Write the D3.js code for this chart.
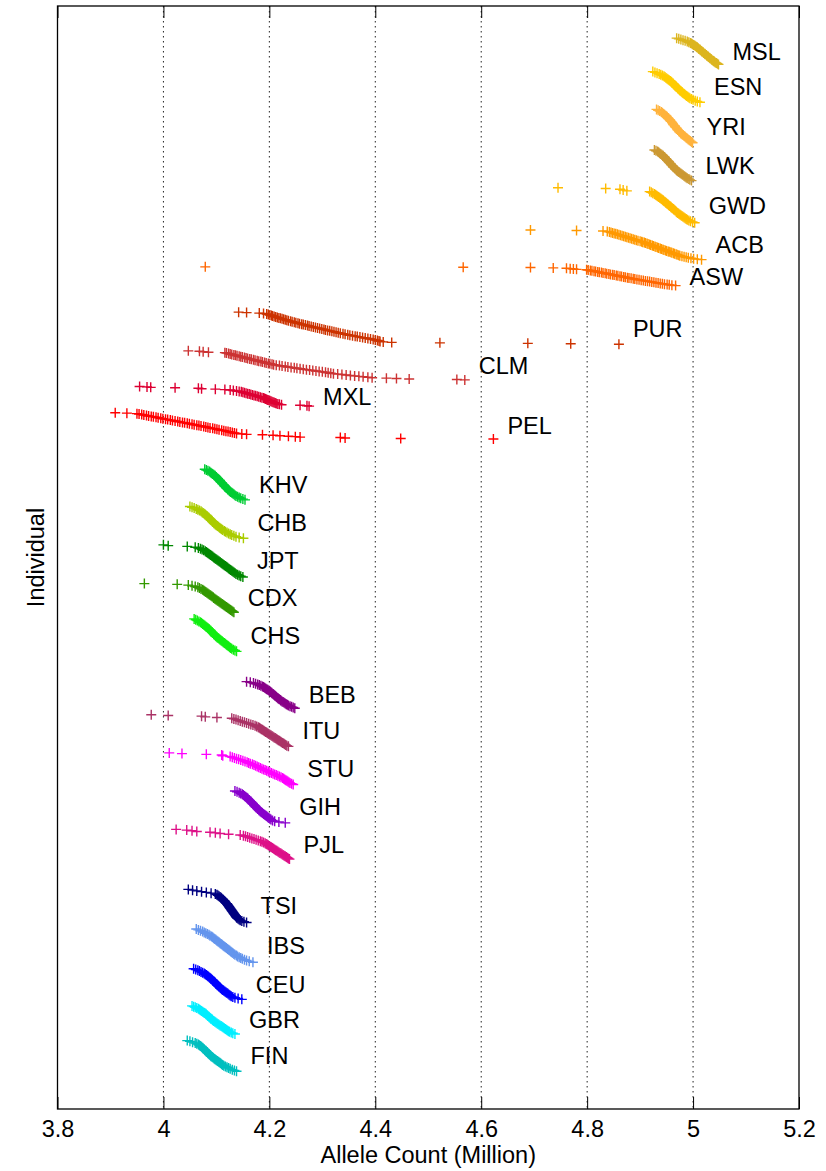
<html>
<script src='https://d3js.org/d3.v7.min.js'></script>
<body style="margin:0;background:#fff">
<svg width=826 height=1171></svg>
<script>
// populations, top to bottom, grouped by continent
const popNames = ["MSL","ESN","YRI","LWK","GWD","ACB","ASW","PUR","CLM","MXL","PEL","KHV","CHB","JPT","CDX","CHS","BEB","ITU","STU","GIH","PJL","TSI","IBS","CEU","GBR","FIN"]
const popSizes = [85,99,108,99,113,96,61,104,94,64,85,99,103,104,93,105,86,102,102,103,96,107,107,99,91,99]
const popGroup = [0,0,0,0,0,0,0,1,1,1,1,2,2,2,2,2,3,3,3,3,3,4,4,4,4,4]
const xTicks = [3.8,4,4.2,4.4,4.6,4.8,5,5.2]

// sorted allele counts (million) per population
const MSL = [4.969,4.973,4.977,4.981,4.985,4.989,4.992,4.995,4.997,4.999,5.001,5.003,5.005,5.007,5.008,5.010,5.011,5.013,5.014,5.016,5.017,5.019,5.020,5.022,5.023,5.025,5.026,5.028,5.029,5.031,5.032,5.034,5.035,5.037,5.039,5.040,5.042,5.044,5.046,5.048]
const ESN = [4.924,4.928,4.932,4.936,4.939,4.942,4.945,4.947,4.949,4.951,4.953,4.955,4.957,4.959,4.960,4.962,4.963,4.965,4.966,4.968,4.969,4.971,4.972,4.974,4.975,4.977,4.979,4.980,4.982,4.984,4.986,4.988,4.990,4.992,4.994,4.997,5.000,5.004,5.008,5.013]
const YRI = [4.931,4.934,4.937,4.940,4.942,4.944,4.946,4.948,4.950,4.951,4.953,4.954,4.956,4.957,4.958,4.960,4.961,4.962,4.963,4.965,4.966,4.967,4.969,4.970,4.971,4.973,4.974,4.976,4.977,4.979,4.981,4.983,4.985,4.987,4.989,4.991,4.993,4.995,4.997,4.999]
const LWK = [4.927,4.930,4.933,4.935,4.937,4.939,4.941,4.943,4.944,4.946,4.947,4.949,4.950,4.951,4.953,4.954,4.955,4.957,4.958,4.959,4.961,4.962,4.963,4.965,4.966,4.968,4.969,4.971,4.973,4.975,4.977,4.979,4.981,4.983,4.985,4.987,4.989,4.992,4.994,4.997]
const GWD = [4.745,4.835,4.862,4.868,4.875,4.918,4.921,4.924,4.927,4.929,4.931,4.933,4.935,4.937,4.939,4.941,4.943,4.944,4.946,4.948,4.949,4.951,4.953,4.954,4.956,4.958,4.959,4.961,4.963,4.964,4.966,4.968,4.969,4.971,4.973,4.975,4.977,4.979,4.981,4.983,4.985,4.987,4.989,4.992,4.995,4.999,5.003]
const ACB = [4.693,4.780,4.830,4.838,4.842,4.845,4.848,4.851,4.854,4.857,4.860,4.863,4.866,4.869,4.872,4.875,4.878,4.881,4.884,4.887,4.890,4.893,4.896,4.900,
  4.903,4.905,4.908,4.910,4.913,4.915,4.918,4.920,4.923,4.925,4.928,4.930,4.933,4.935,4.938,4.940,4.943,4.945,4.948,4.950,4.953,4.955,4.958,4.960,4.963,4.965,4.968,4.970,4.973,4.975,
  4.979,4.983,4.987,4.991,4.996,5.001,5.008,5.016]
const ASW = [4.079,4.566,4.693,4.736,4.761,4.768,4.774,4.780,
  4.799,4.802,4.806,4.809,4.813,4.816,4.820,4.823,4.827,4.830,4.834,4.837,4.841,4.844,4.848,4.851,4.855,4.858,4.862,4.865,4.869,4.872,4.876,4.879,4.883,4.887,4.890,4.894,4.898,4.902,4.906,4.910,4.914,4.918,4.922,4.926,4.930,4.934,4.938,4.942,4.946,4.951,4.955,4.960,4.967]
const PUR = [4.142,4.157,4.181,4.189,
  4.195,4.198,4.201,4.204,4.206,4.209,4.212,4.215,4.218,4.221,4.224,4.227,4.230,4.233,4.236,4.240,4.243,4.247,4.250,4.254,4.257,4.261,4.264,4.268,4.272,4.275,4.279,4.283,
  4.287,4.291,4.295,4.299,4.303,4.306,4.310,4.314,4.318,4.322,4.326,4.330,4.334,
  4.339,4.343,4.348,4.352,4.357,4.362,4.366,4.371,4.376,4.381,4.386,4.391,4.396,4.400,4.404,4.407,4.409,
  4.415,4.431,4.522,4.688,4.769,4.860]
const CLM = [4.047,4.068,4.075,4.085,
  4.116,4.119,4.123,4.126,4.129,4.133,4.136,4.139,4.143,4.146,4.149,4.153,4.156,4.159,4.163,4.166,4.170,4.173,4.177,4.180,4.184,4.187,4.191,4.194,4.198,4.201,4.205,4.208,
  4.213,4.219,4.224,4.230,4.235,4.241,4.247,4.252,4.258,4.264,4.270,4.276,4.282,4.288,4.294,4.300,4.306,4.311,4.316,4.321,
  4.329,4.337,4.345,4.353,4.361,4.369,4.377,4.386,4.394,
  4.421,4.440,4.464,4.554,4.569]
const MXL = [3.955,3.969,3.976,4.022,4.066,4.072,4.098,4.116,4.126,4.132,4.138,4.143,4.147,4.150,4.153,4.156,4.159,4.162,4.165,4.168,4.171,4.174,4.177,4.180,4.183,4.186,4.189,4.191,4.193,4.195,4.197,4.199,4.201,4.203,4.205,4.207,4.209,4.211,4.213,4.216,4.219,4.223,4.258,4.271,4.275]
const PEL = [3.909,3.931,
  3.950,3.954,3.959,3.963,3.968,3.972,3.977,3.981,3.986,3.990,3.995,3.999,4.004,4.008,4.013,4.017,4.022,4.027,4.031,4.036,4.040,4.045,4.049,4.054,4.058,4.063,
  4.067,4.071,4.076,4.080,4.084,4.088,4.093,4.097,4.101,4.105,4.110,4.114,4.118,4.122,4.126,4.130,4.134,4.138,
  4.148,4.157,4.187,4.207,4.220,4.236,4.249,4.258,4.334,4.343,4.448,4.623]
const KHV = [4.078,4.081,4.084,4.087,4.089,4.091,4.093,4.095,4.097,4.098,4.100,4.101,4.103,4.104,4.106,4.107,4.108,4.110,4.111,4.112,4.114,4.115,4.116,4.118,4.119,4.121,4.122,4.124,4.125,4.127,4.129,4.131,4.133,4.135,4.137,4.140,4.143,4.146,4.150,4.154]
const CHB = [4.050,4.054,4.058,4.062,4.065,4.068,4.071,4.073,4.075,4.077,4.079,4.081,4.083,4.084,4.086,4.087,4.089,4.090,4.092,4.093,4.095,4.096,4.098,4.100,4.102,4.104,4.106,4.108,4.110,4.112,4.115,4.117,4.120,4.123,4.126,4.129,4.133,4.137,4.143,4.151]
const JPT = [4.000,4.009,4.045,4.060,4.066,4.070,4.073,4.076,4.079,4.081,4.083,4.085,4.087,4.089,4.091,4.093,4.095,4.097,4.099,4.101,4.103,4.105,4.107,4.109,4.111,4.113,4.115,4.117,4.119,4.121,4.123,4.125,4.127,4.129,4.131,4.133,4.135,4.137,4.140,4.143,4.146,4.150]
const CDX = [3.964,4.026,4.047,4.054,4.060,4.065,4.068,4.071,4.074,4.076,4.078,4.080,4.082,4.084,4.086,4.088,4.090,4.092,4.094,4.095,4.097,4.099,4.101,4.103,4.105,4.107,4.109,4.111,4.113,4.115,4.117,4.119,4.121,4.123,4.125,4.127,4.129,4.131,4.133]
const CHS = [4.058,4.061,4.064,4.067,4.070,4.072,4.074,4.076,4.078,4.080,4.082,4.084,4.086,4.087,4.089,4.090,4.092,4.093,4.095,4.096,4.098,4.099,4.101,4.103,4.105,4.107,4.109,4.111,4.113,4.115,4.117,4.119,4.121,4.123,4.125,4.127,4.129,4.132,4.135,4.138]
const BEB = [4.157,4.164,4.170,4.174,4.178,4.181,4.184,4.187,4.189,4.191,4.193,4.195,4.197,4.199,4.201,4.202,4.204,4.205,4.207,4.208,4.210,4.211,4.213,4.214,4.216,4.217,4.219,4.221,4.222,4.224,4.226,4.228,4.230,4.232,4.234,4.236,4.239,4.242,4.245,4.248]
const ITU = [3.977,4.009,4.072,4.079,4.101,
  4.129,4.133,4.137,4.141,4.145,4.149,4.153,4.157,4.161,4.165,4.169,4.173,4.176,
  4.179,4.181,4.183,4.185,4.187,4.189,4.191,4.193,4.195,4.197,4.199,4.201,4.203,4.205,4.207,4.209,4.211,4.213,4.215,4.217,4.219,4.221,4.223,4.225,4.227,4.229,4.231,4.233,4.236]
const STU = [4.011,4.035,4.081,4.110,4.112,
  4.126,4.130,4.134,4.138,4.142,4.146,4.150,4.154,4.158,4.161,4.164,
  4.168,4.171,4.174,4.177,4.180,4.183,4.186,4.189,4.192,4.195,4.198,4.201,4.204,4.207,4.210,4.213,4.216,4.219,4.222,4.225,4.227,4.229,4.231,4.233,4.235,4.237,4.239,4.242,4.245]
const GIH = [4.135,4.139,4.143,4.146,4.149,4.151,4.153,4.155,4.157,4.159,4.160,4.162,4.163,4.165,4.166,4.168,4.169,4.171,4.172,4.174,4.175,4.177,4.178,4.180,4.181,4.183,4.185,4.187,4.189,4.191,4.193,4.195,4.197,4.199,4.201,4.203,4.206,4.210,4.218,4.230]
const PJL = [4.024,4.044,4.054,4.063,4.088,4.098,4.107,4.123,4.145,
  4.151,4.155,4.159,4.163,4.167,4.171,4.175,4.179,4.183,4.186,4.189,
  4.192,4.194,4.196,4.198,4.200,4.202,4.204,4.206,4.208,4.210,4.212,4.214,4.216,4.218,4.220,4.222,4.224,4.226,4.228,4.230,4.232,4.234,4.236,4.238]
const TSI = [4.047,4.055,4.063,4.072,4.081,4.090,4.098,4.101,4.103,4.105,4.107,4.109,4.110,4.112,4.113,4.115,4.116,4.117,4.118,4.120,4.121,4.122,4.123,4.124,4.125,4.126,4.127,4.128,4.129,4.130,4.131,4.132,4.133,4.134,4.135,4.136,4.137,4.138,4.139,4.141,4.143,4.145,4.148,4.152,4.157]
const IBS = [4.062,4.066,4.070,4.074,4.077,4.080,4.083,4.086,4.088,4.091,4.093,4.095,4.097,4.099,4.101,4.103,4.105,4.107,4.109,4.111,4.113,4.115,4.117,4.119,4.121,4.123,4.125,4.127,4.129,4.131,4.133,4.135,4.138,4.140,4.143,4.146,4.149,4.153,4.157,4.162,4.169]
const CEU = [4.057,4.061,4.065,4.068,4.071,4.074,4.077,4.079,4.081,4.083,4.085,4.087,4.089,4.090,4.092,4.093,4.095,4.096,4.098,4.099,4.101,4.102,4.104,4.105,4.107,4.108,4.110,4.112,4.114,4.116,4.118,4.120,4.122,4.124,4.126,4.128,4.131,4.135,4.141,4.148]
const GBR = [4.054,4.057,4.060,4.063,4.066,4.068,4.070,4.072,4.074,4.076,4.078,4.080,4.081,4.083,4.084,4.086,4.087,4.089,4.090,4.092,4.093,4.095,4.097,4.099,4.101,4.103,4.105,4.107,4.109,4.111,4.113,4.115,4.117,4.119,4.121,4.123,4.125,4.128,4.131,4.135]
const FIN = [4.045,4.050,4.055,4.060,4.063,4.066,4.068,4.070,4.072,4.074,4.075,4.077,4.078,4.080,4.081,4.083,4.084,4.086,4.087,4.089,4.090,4.092,4.094,4.096,4.098,4.100,4.102,4.104,4.106,4.108,4.110,4.112,4.114,4.117,4.120,4.123,4.126,4.130,4.134,4.138]

const series = [MSL,ESN,YRI,LWK,GWD,ACB,ASW,PUR,CLM,MXL,PEL,KHV,CHB,JPT,CDX,CHS,BEB,ITU,STU,GIH,PJL,TSI,IBS,CEU,GBR,FIN]

const colors = ["#dcb51f","#ffcc00","#ffb33d","#cc9933","#ffbb00","#ff9900","#ff6600",
  "#cc3300","#cc3333","#dd0033","#ff0000",
  "#00cc33","#aacc00","#008800","#339900","#11ee11",
  "#880088","#aa3366","#ff00ff","#8800cc","#dd1188",
  "#000080","#6495ed","#0000ff","#00eeff","#00bfbf"]

const svg = d3.select("svg")
const plotL = 57.5, plotR = 799, plotT = 6, plotB = 1109
const font = "'Liberation Sans', Arial, Helvetica, sans-serif"
const fs = 23.5

// individual index layout: gap inside a continent, bigger gap between
const topPad = 103, gapIn = [22,20,20,20,20], gapOut = [84,96,96,96]
let cursor = topPad
const starts = popSizes.map((n,i) => {
  if (i > 0) {
    const g = popGroup[i]
    cursor += (g == popGroup[i-1]) ? gapIn[g] : gapOut[g-1]
  }
  const s = cursor
  cursor += n
  return s
})

const xs = d3.scaleLinear().domain([3.8,5.2]).range([plotL,plotR])
const ys = d3.scaleLinear().domain([0,3531]).range([plotT,plotB])

// dotted grid
svg.append("g")
  .selectAll("line")
  .data(xTicks.slice(1,-1))
  .enter()
  .append("line")
  .attr("x1", d => xs(d)).attr("x2", d => xs(d))
  .attr("y1", plotT).attr("y2", plotB)
  .attr("stroke", "#222").attr("stroke-width", 1)
  .attr("stroke-dasharray", "1.5,3.5")

// points
const plus = "M-5,0H5M0,-5V5"
series.forEach((vals,i) => {
  const n = popSizes[i], s = starts[i]
  svg.append("g")
    .selectAll("path")
    .data(vals)
    .enter()
    .append("path")
    .attr("d", plus)
    .attr("transform", (d,j) => "translate(" + xs(d) + "," + ys(s + j*(n-1)/(vals.length-1)) + ")")
    .attr("stroke", colors[i])
    .attr("stroke-width", 1.4)
    .attr("fill", "none")

  svg.append("text")
    .attr("x", xs(d3.max(vals)) + 14)
    .attr("y", ys(s + (n-1)/2))
    .attr("dy", "0.36em")
    .attr("font-family", font)
    .attr("font-size", fs)
    .text(popNames[i])
})

// axes
const xAxis = d3.axisBottom(xs).tickValues(xTicks).tickFormat(d3.format("~g")).tickSizeInner(-12).tickSizeOuter(0).tickPadding(11)
const gx = svg.append("g").attr("transform", "translate(0," + plotB + ")").call(xAxis)
gx.select(".domain").remove()
gx.selectAll("text").attr("font-family", font).attr("font-size", fs).attr("fill", "#000")
gx.selectAll("line").attr("stroke", "#000")

const gt = svg.append("g").attr("transform", "translate(0," + plotT + ")")
  .call(d3.axisTop(xs).tickValues(xTicks).tickFormat("").tickSizeInner(-12).tickSizeOuter(0))
gt.select(".domain").remove()
gt.selectAll("line").attr("stroke", "#000")

svg.append("rect")
  .attr("x", plotL).attr("y", plotT)
  .attr("width", plotR-plotL).attr("height", plotB-plotT)
  .attr("fill", "none").attr("stroke", "#000").attr("stroke-width", 1.3)

svg.append("text")
  .attr("x", (plotL+plotR)/2).attr("y", 1163)
  .attr("text-anchor", "middle")
  .attr("font-family", font).attr("font-size", fs)
  .text("Allele Count (Million)")

svg.append("text")
  .attr("transform", "translate(44," + (plotT+plotB)/2 + ") rotate(-90)")
  .attr("text-anchor", "middle")
  .attr("font-family", font).attr("font-size", fs)
  .text("Individual")
</script>
</body>
</html>
